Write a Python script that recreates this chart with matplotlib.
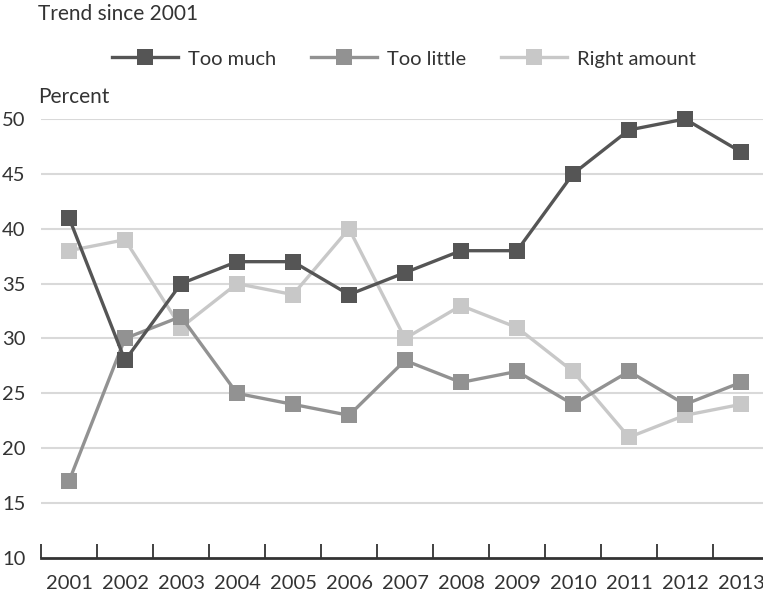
import matplotlib
matplotlib.use("Agg")
import matplotlib.pyplot as plt

years = ["2001", "2002", "2003", "2004", "2005", "2006", "2007",
         "2008", "2009", "2010", "2011", "2012", "2013"]
too_much = [41, 28, 35, 37, 37, 34, 36, 38, 38, 45, 49, 50, 47]
too_little = [17, 30, 32, 25, 24, 23, 28, 26, 27, 24, 27, 24, 26]
right_amount = [38, 39, 31, 35, 34, 40, 30, 33, 31, 27, 21, 23, 24]
series_names = ["Too much", "Too little", "Right amount"]
series_colors = ["#555555", "#929292", "#c8c8c8"]
y_ticks = [10, 15, 20, 25, 30, 35, 40, 45, 50]

plt.rcParams["font.family"] = ["Lato", "DejaVu Sans"]
text_color = "#333333"

W, H = 763, 596
fig = plt.figure(figsize=(W / 100, H / 100), dpi=100)
ax = fig.add_axes([41 / W, (H - 558) / H, (769 - 41) / W, (558 - 119) / H])

x = list(range(len(years)))
handles = []
for vals, name, col, z in zip([too_much, too_little, right_amount], series_names,
                              series_colors, [3, 2.8, 2.5]):
    ln, = ax.plot(x, vals, color=col, lw=2.4, marker="s", markersize=11.5,
                  markeredgewidth=0, label=name, clip_on=False, zorder=z)
    handles.append(ln)

ax.set_xlim(-0.5, len(years) - 0.5)
ax.set_ylim(10, 50)

for s in ["top", "right", "left"]:
    ax.spines[s].set_visible(False)
ax.spines["bottom"].set_color("#333333")
ax.spines["bottom"].set_linewidth(2)

ax.set_yticks(y_ticks)
ax.set_yticklabels([str(v) for v in y_ticks])
ax.tick_params(axis="y", length=0, pad=11, labelsize=14.5, labelcolor=text_color)
for v in y_ticks[1:]:
    ax.axhline(v, color="#d9d9d9", lw=1.5, zorder=1)

# year labels at centers, tick marks at category boundaries
ax.set_xticks(x)
ax.set_xticklabels(years)
ax.set_xticks([i - 0.5 for i in range(len(years) + 1)], minor=True)
ax.tick_params(axis="x", which="major", length=0, pad=12, labelsize=14.5, labelcolor=text_color)
ax.tick_params(axis="x", which="minor", direction="in", length=10, width=1.3, color="#333333")

fig.text(38 / W, 1 - 14 / H, "Trend since 2001", fontsize=15, color=text_color, va="center")
fig.text(38 / W, 1 - 97 / H, "Percent", fontsize=15, color=text_color, va="center")

fig.legend(handles=handles, labels=series_names, loc="center",
           bbox_to_anchor=(404 / W, 1 - 59 / H), ncol=3, frameon=False,
           fontsize=14.5, handlelength=3.3, handletextpad=0.5, columnspacing=1.7,
           labelcolor=text_color, borderaxespad=0)

fig.savefig("out.png", dpi=100)
